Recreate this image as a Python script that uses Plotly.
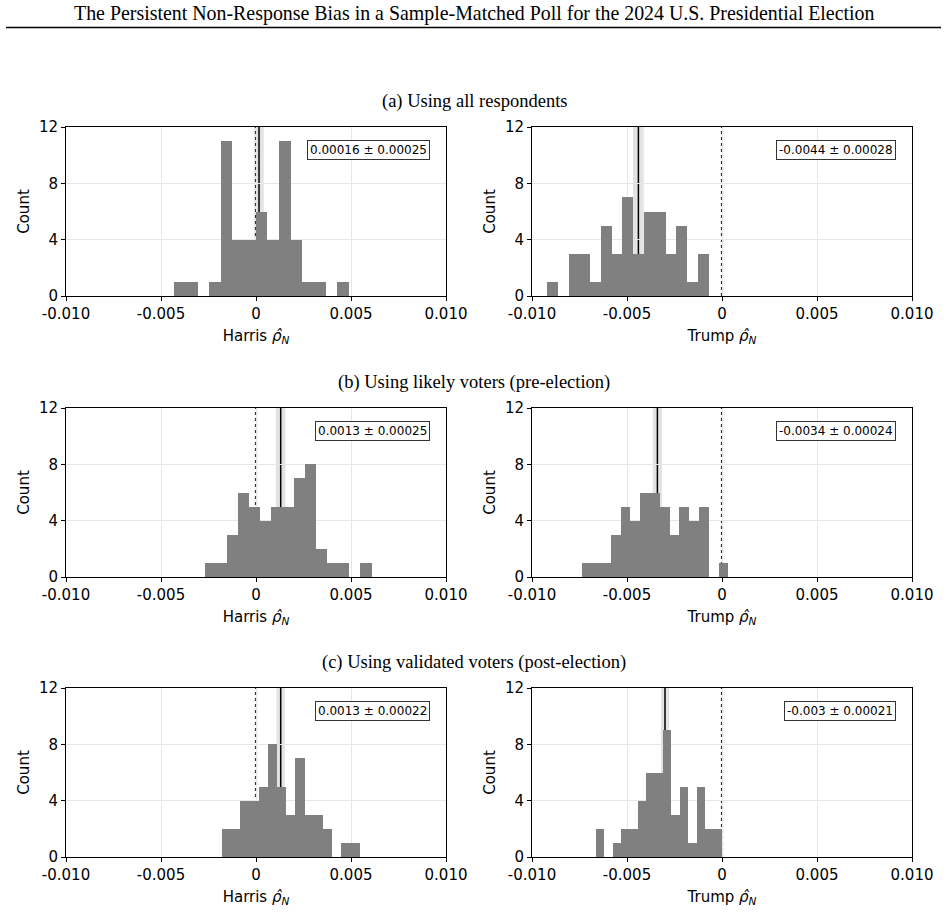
import plotly.graph_objects as go

# ---------------- data ----------------
panel_titles = ["(a) Using all respondents",
                "(b) Using likely voters (pre-election)",
                "(c) Using validated voters (post-election)"]
candidates = ["Harris", "Trump"]

# histogram counts (15 bins each), first-bin left edge and bin width
harris_all_counts = [1, 1, 0, 1, 11, 4, 4, 6, 4, 11, 4, 1, 1, 0, 1]
harris_all_bins = (-0.004305, 0.000613)
trump_all_counts = [1, 0, 3, 3, 1, 5, 3, 7, 3, 6, 6, 3, 5, 1, 3]
trump_all_bins = (-0.009208, 0.000567)

harris_likely_counts = [1, 1, 3, 6, 5, 4, 5, 5, 7, 8, 2, 1, 1, 0, 1]
harris_likely_bins = (-0.002695, 0.000585)
trump_likely_counts = [1, 1, 1, 3, 5, 4, 6, 6, 5, 3, 5, 4, 5, 0, 1]
trump_likely_bins = (-0.007394, 0.000515)

harris_valid_counts = [2, 2, 4, 4, 5, 8, 5, 3, 7, 3, 3, 2, 0, 1, 1]
harris_valid_bins = (-0.001803, 0.000484)
trump_valid_counts = [2, 0, 1, 2, 2, 4, 6, 6, 9, 3, 5, 1, 5, 2, 2]
trump_valid_bins = (-0.006637, 0.000442)

means = [[0.00016, -0.0044], [0.0013, -0.0034], [0.0013, -0.003]]
ses = [[0.00025, 0.00028], [0.00025, 0.00024], [0.00022, 0.00021]]
mean_labels = [["0.00016 ± 0.00025", "-0.0044 ± 0.00028"],
               ["0.0013 ± 0.00025", "-0.0034 ± 0.00024"],
               ["0.0013 ± 0.00022", "-0.003 ± 0.00021"]]

x_tickvals = [-0.01, -0.005, 0, 0.005, 0.01]
x_ticktext = ["-0.010", "-0.005", "0", "0.005", "0.010"]
y_tickvals = [0, 4, 8, 12]

counts = [[harris_all_counts, trump_all_counts],
          [harris_likely_counts, trump_likely_counts],
          [harris_valid_counts, trump_valid_counts]]
bins = [[harris_all_bins, trump_all_bins],
        [harris_likely_bins, trump_likely_bins],
        [harris_valid_bins, trump_valid_bins]]

# ---------------- layout geometry ----------------
W, H = 948, 912
col_px = [(66, 446), (532, 912)]
row_px = [(127, 296), (408, 577), (688, 857)]
subtitle_y = [101, 382, 662]

fig = go.Figure()
shapes = []
annotations = []
layout_axes = {}

sans = "DejaVu Sans"
serif = "Liberation Serif"

k = 0
for r in range(3):
    for c in range(2):
        k += 1
        xa = "x" if k == 1 else f"x{k}"
        ya = "y" if k == 1 else f"y{k}"
        start, width = bins[r][c]
        cts = counts[r][c]
        centers = [start + width * (i + 0.5) for i in range(len(cts))]
        fig.add_trace(go.Bar(x=centers, y=cts, width=[width] * len(cts),
                             marker=dict(color="#808080", line=dict(width=0)),
                             xaxis=xa, yaxis=ya, showlegend=False,
                             hoverinfo="skip"))
        x0, x1 = col_px[c]
        y0, y1 = row_px[r]
        layout_axes["xaxis" if k == 1 else f"xaxis{k}"] = dict(
            domain=[x0 / W, x1 / W], anchor=ya, range=[-0.01, 0.01],
            automargin=False,
            tickvals=x_tickvals, ticktext=x_ticktext, ticks="outside",
            ticklen=4, tickwidth=1, tickcolor="black",
            showline=True, linecolor="black", linewidth=1, mirror=True,
            showgrid=True, gridcolor="#e6e6e6", gridwidth=1, zeroline=False,
            tickfont=dict(family=sans, size=15, color="black"),
            title=dict(text=f"{candidates[c]} <i>ρ̂</i><sub><i>N</i></sub>",
                       font=dict(family=sans, size=15, color="black"),
                       standoff=8),
        )
        layout_axes["yaxis" if k == 1 else f"yaxis{k}"] = dict(
            domain=[1 - y1 / H, 1 - y0 / H], anchor=xa, range=[0, 12],
            automargin=False,
            tickvals=y_tickvals, ticks="outside", ticklen=4, tickwidth=1,
            tickcolor="black", showline=True, linecolor="black", linewidth=1,
            mirror=True, showgrid=True, gridcolor="#e6e6e6", gridwidth=1,
            zeroline=False,
            tickfont=dict(family=sans, size=15, color="black"),
            title=dict(text="Count", font=dict(family=sans, size=15, color="black"),
                       standoff=5),
        )
        m = means[r][c]
        s = ses[r][c]
        shapes.append(dict(type="rect", xref=xa, yref=ya,
                           x0=m - s, x1=m + s, y0=0, y1=12, layer="below",
                           fillcolor="rgba(128,128,128,0.22)", line=dict(width=0)))
        shapes.append(dict(type="line", xref=xa, yref=ya,
                           x0=0, x1=0, y0=0, y1=12, layer="below",
                           line=dict(color="#333333", width=2.2, dash="dot")))
        shapes.append(dict(type="line", xref=xa, yref=ya,
                           x0=m, x1=m, y0=0, y1=12, layer="below",
                           line=dict(color="black", width=1.5)))
        annotations.append(dict(
            text=mean_labels[r][c], xref=f"{xa} domain", yref=f"{ya} domain",
            x=0.958, y=0.925, xanchor="right", yanchor="top", showarrow=False,
            font=dict(family=sans, size=12, color="black"),
            bordercolor="#333333", borderwidth=1, borderpad=2,
            bgcolor="white"))

for r in range(3):
    annotations.append(dict(text=panel_titles[r], xref="paper", yref="paper",
                            x=0.5, y=1 - subtitle_y[r] / H, xanchor="center",
                            yanchor="middle", showarrow=False,
                            font=dict(family=serif, size=18.5, color="black")))

annotations.append(dict(
    text="The Persistent Non-Response Bias in a Sample-Matched Poll for the 2024 U.S. Presidential Election",
    xref="paper", yref="paper", x=0.5, y=1 - 13.5 / H, xanchor="center",
    yanchor="middle", showarrow=False,
    font=dict(family=serif, size=19.9, color="black")))

shapes.append(dict(type="line", xref="paper", yref="paper",
                   x0=6 / W, x1=941 / W, y0=1 - 27.5 / H, y1=1 - 27.5 / H,
                   line=dict(color="black", width=1.5)))

fig.update_layout(width=W, height=H, margin=dict(l=0, r=0, t=0, b=0),
                  paper_bgcolor="white", plot_bgcolor="white",
                  bargap=0, shapes=shapes, annotations=annotations,
                  **layout_axes)

fig.write_html("out.html")
